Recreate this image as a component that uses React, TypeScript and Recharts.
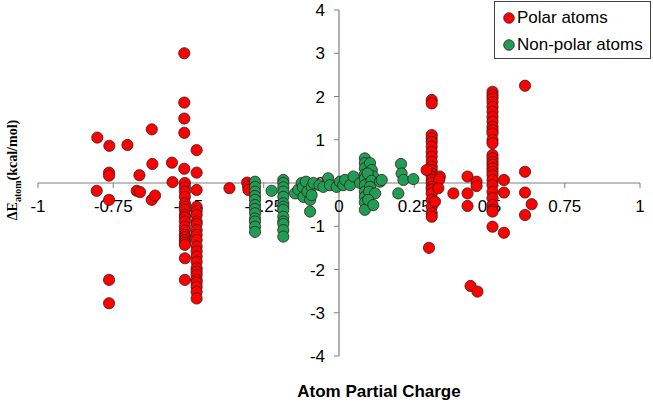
import React from "react";
import {
  ScatterChart,
  Scatter,
  XAxis,
  YAxis,
  ReferenceLine,
  ReferenceDot,
  Legend,
} from "recharts";

type Pt = { x: number; y: number };

// polar atoms (red)
const polarAtoms: Pt[] = [
  { x: -0.803, y: 1.05 }, { x: -0.763, y: 0.86 }, { x: -0.703, y: 0.88 },
  { x: -0.622, y: 1.24 }, { x: -0.514, y: 3.0 }, { x: -0.514, y: 1.86 },
  { x: -0.514, y: 1.49 }, { x: -0.514, y: 1.16 }, { x: -0.473, y: 0.76 },
  { x: -0.62, y: 0.44 }, { x: -0.555, y: 0.47 }, { x: -0.514, y: 0.33 },
  { x: -0.473, y: 0.24 }, { x: -0.764, y: 0.24 }, { x: -0.764, y: 0.17 },
  { x: -0.663, y: 0.18 }, { x: -0.553, y: 0.02 }, { x: -0.805, y: -0.18 },
  { x: -0.764, y: -0.39 }, { x: -0.672, y: -0.18 }, { x: -0.661, y: -0.21 },
  { x: -0.622, y: -0.39 }, { x: -0.611, y: -0.29 }, { x: -0.364, y: -0.12 },
  { x: -0.305, y: 0.01 }, { x: -0.302, y: -0.08 }, { x: -0.301, y: -0.16 },
  { x: -0.764, y: -2.24 }, { x: -0.764, y: -2.78 },
  // column near -0.51
  { x: -0.512, y: 0.0 }, { x: -0.512, y: -0.1 }, { x: -0.512, y: -0.2 },
  { x: -0.512, y: -0.32 }, { x: -0.512, y: -0.47 }, { x: -0.512, y: -0.55 },
  { x: -0.512, y: -0.62 }, { x: -0.512, y: -0.74 }, { x: -0.512, y: -0.8 },
  { x: -0.512, y: -0.89 }, { x: -0.512, y: -1.01 }, { x: -0.512, y: -1.1 },
  { x: -0.512, y: -1.2 }, { x: -0.512, y: -1.25 }, { x: -0.512, y: -1.32 },
  { x: -0.512, y: -1.38 }, { x: -0.512, y: -1.43 }, { x: -0.512, y: -1.74 },
  { x: -0.512, y: -2.24 },
  // column near -0.47
  { x: -0.473, y: -0.16 }, { x: -0.473, y: -0.55 }, { x: -0.473, y: -0.65 },
  { x: -0.473, y: -0.74 }, { x: -0.473, y: -0.89 }, { x: -0.473, y: -0.95 },
  { x: -0.473, y: -1.09 }, { x: -0.473, y: -1.2 }, { x: -0.473, y: -1.32 },
  { x: -0.473, y: -1.47 }, { x: -0.473, y: -1.58 }, { x: -0.473, y: -1.7 },
  { x: -0.473, y: -1.82 }, { x: -0.473, y: -1.97 }, { x: -0.473, y: -2.05 },
  { x: -0.473, y: -2.13 }, { x: -0.473, y: -2.24 }, { x: -0.473, y: -2.3 },
  { x: -0.473, y: -2.4 }, { x: -0.473, y: -2.52 }, { x: -0.473, y: -2.67 },
  // column near 0.31
  { x: 0.308, y: 1.92 }, { x: 0.308, y: 1.84 }, { x: 0.308, y: 1.11 },
  { x: 0.308, y: 1.03 }, { x: 0.308, y: 0.95 }, { x: 0.308, y: 0.84 },
  { x: 0.308, y: 0.72 }, { x: 0.308, y: 0.61 }, { x: 0.308, y: 0.49 },
  { x: 0.308, y: 0.38 }, { x: 0.308, y: 0.3 }, { x: 0.308, y: 0.22 },
  { x: 0.308, y: 0.15 }, { x: 0.308, y: 0.07 }, { x: 0.308, y: 0.0 },
  { x: 0.308, y: -0.09 }, { x: 0.308, y: -0.15 }, { x: 0.308, y: -0.24 },
  { x: 0.308, y: -0.39 }, { x: 0.308, y: -0.55 }, { x: 0.308, y: -0.7 },
  { x: 0.308, y: -0.78 }, { x: 0.299, y: -1.5 }, { x: 0.291, y: 0.3 },
  { x: 0.335, y: 0.15 }, { x: 0.333, y: 0.08 }, { x: 0.33, y: -0.12 },
  { x: 0.319, y: -0.43 }, { x: 0.38, y: -0.24 }, { x: 0.427, y: 0.15 },
  { x: 0.427, y: -0.24 }, { x: 0.427, y: -0.53 }, { x: 0.457, y: 0.03 },
  { x: 0.457, y: -0.07 },
  // column near 0.51
  { x: 0.51, y: 2.11 }, { x: 0.51, y: 2.03 }, { x: 0.51, y: 1.96 },
  { x: 0.51, y: 1.87 }, { x: 0.51, y: 1.76 }, { x: 0.51, y: 1.65 },
  { x: 0.51, y: 1.53 }, { x: 0.51, y: 1.42 }, { x: 0.51, y: 1.3 },
  { x: 0.51, y: 1.22 }, { x: 0.51, y: 1.15 }, { x: 0.51, y: 1.0 },
  { x: 0.51, y: 0.92 }, { x: 0.51, y: 0.65 }, { x: 0.51, y: 0.57 },
  { x: 0.51, y: 0.49 }, { x: 0.51, y: 0.42 }, { x: 0.51, y: 0.34 },
  { x: 0.51, y: 0.26 }, { x: 0.51, y: 0.18 }, { x: 0.51, y: 0.07 },
  { x: 0.51, y: -0.05 }, { x: 0.51, y: -0.2 }, { x: 0.51, y: -0.35 },
  { x: 0.51, y: -0.51 }, { x: 0.51, y: -0.62 }, { x: 0.51, y: -0.66 },
  { x: 0.51, y: -1.01 },
  { x: 0.548, y: 0.07 }, { x: 0.548, y: -0.22 }, { x: 0.548, y: -1.15 },
  { x: 0.618, y: 2.25 }, { x: 0.618, y: 0.26 }, { x: 0.618, y: -0.22 },
  { x: 0.618, y: -0.74 }, { x: 0.64, y: -0.49 }, { x: 0.437, y: -2.38 },
  { x: 0.46, y: -2.51 },
];

// non-polar atoms (green)
const nonPolarAtoms: Pt[] = [
  { x: -0.279, y: 0.03 }, { x: -0.279, y: -0.09 }, { x: -0.279, y: -0.2 },
  { x: -0.279, y: -0.3 }, { x: -0.279, y: -0.39 }, { x: -0.279, y: -0.51 },
  { x: -0.279, y: -0.6 }, { x: -0.279, y: -0.7 }, { x: -0.279, y: -0.82 },
  { x: -0.279, y: -0.89 }, { x: -0.279, y: -1.01 }, { x: -0.279, y: -1.13 },
  { x: -0.224, y: -0.18 },
  { x: -0.185, y: 0.07 }, { x: -0.185, y: 0.0 }, { x: -0.185, y: -0.1 },
  { x: -0.185, y: -0.2 }, { x: -0.185, y: -0.32 }, { x: -0.185, y: -0.47 },
  { x: -0.185, y: -0.55 }, { x: -0.185, y: -0.62 }, { x: -0.185, y: -0.78 },
  { x: -0.185, y: -0.89 }, { x: -0.185, y: -0.95 }, { x: -0.185, y: -1.09 },
  { x: -0.185, y: -1.24 },
  { x: -0.146, y: -0.24 }, { x: -0.135, y: -0.15 }, { x: -0.124, y: 0.0 },
  { x: -0.12, y: -0.1 }, { x: -0.118, y: -0.32 }, { x: -0.11, y: 0.03 },
  { x: -0.105, y: -0.2 }, { x: -0.096, y: -0.39 }, { x: -0.096, y: -0.66 },
  { x: -0.091, y: -0.09 }, { x: -0.091, y: -0.28 }, { x: -0.085, y: 0.0 },
  { x: -0.065, y: -0.05 }, { x: -0.052, y: -0.09 }, { x: -0.036, y: 0.11 },
  { x: -0.03, y: -0.05 }, { x: -0.008, y: -0.09 }, { x: 0.003, y: 0.03 },
  { x: 0.014, y: -0.05 }, { x: 0.02, y: 0.07 }, { x: 0.037, y: -0.05 },
  { x: 0.048, y: 0.15 }, { x: 0.07, y: 0.0 },
  { x: 0.086, y: 0.57 }, { x: 0.086, y: 0.46 }, { x: 0.086, y: 0.34 },
  { x: 0.086, y: 0.2 }, { x: 0.086, y: 0.1 }, { x: 0.086, y: -0.05 },
  { x: 0.086, y: -0.2 }, { x: 0.086, y: -0.32 }, { x: 0.086, y: -0.45 },
  { x: 0.086, y: -0.62 },
  { x: 0.103, y: 0.46 }, { x: 0.109, y: 0.3 }, { x: 0.114, y: 0.15 },
  { x: 0.095, y: 0.22 }, { x: 0.108, y: 0.05 }, { x: 0.103, y: -0.09 },
  { x: 0.1, y: -0.2 }, { x: 0.12, y: -0.24 }, { x: 0.097, y: -0.39 },
  { x: 0.114, y: -0.51 }, { x: 0.136, y: 0.03 },
  { x: 0.142, y: 0.07 }, { x: 0.206, y: 0.44 }, { x: 0.208, y: 0.22 },
  { x: 0.214, y: 0.07 }, { x: 0.247, y: 0.09 }, { x: 0.197, y: -0.24 },
];

const xTicks = [-1, -0.75, -0.5, -0.25, 0, 0.25, 0.5, 0.75, 1];
const yTicks = [-4, -3, -2, -1, 0, 1, 2, 3, 4];

const AXIS = "#7f7f7f";
const RED = "#ff0000";
const GREEN = "#1e9e55";
const TICK_FONT = "'Liberation Sans', Arial, sans-serif";

const dot = (fill: string) => (p: any) => (
  <circle cx={p.cx} cy={p.cy} r={5.6} fill={fill} stroke="#3a1a1a" strokeWidth={0.8} />
);

const xTickShape = (label: string) => (p: any) => (
  <g>
    <line x1={p.cx} y1={p.cy} x2={p.cx} y2={p.cy + 5} stroke={AXIS} />
    <text x={p.cx} y={p.cy + 29} textAnchor="middle" fontSize={17} fontFamily={TICK_FONT} fill="#000">
      {label}
    </text>
  </g>
);

const yTickShape = (label: string) => (p: any) => (
  <g>
    <line x1={p.cx - 5} y1={p.cy} x2={p.cx} y2={p.cy} stroke={AXIS} />
    <text x={p.cx - 14} y={p.cy + 6} textAnchor="end" fontSize={17} fontFamily={TICK_FONT} fill="#000">
      {label}
    </text>
  </g>
);

const LegendBox = () => (
  <div
    style={{
      border: "1px solid #404040",
      background: "#fff",
      width: 157,
      height: 58,
      boxSizing: "border-box",
      fontFamily: TICK_FONT,
      fontSize: 17,
      paddingLeft: 8,
    }}
  >
    {[
      { name: "Polar atoms", color: RED },
      { name: "Non-polar atoms", color: GREEN },
    ].map((it, i) => (
      <div key={i} style={{ display: "flex", alignItems: "center", height: 27, marginTop: i === 0 ? 2 : 0 }}>
        <svg width={12} height={12} style={{ marginRight: 2 }}>
          <circle cx={6} cy={6} r={5.3} fill={it.color} stroke="#3a1a1a" strokeWidth={0.8} />
        </svg>
        <span>{it.name}</span>
      </div>
    ))}
  </div>
);

export default function App() {
  return (
    <div style={{ position: "absolute", left: 0, top: 0, width: 653, height: 404, background: "#fff" }}>
      <ScatterChart width={653} height={404} margin={{ top: 10, right: 13, bottom: 48, left: 38 }}>
        <XAxis type="number" dataKey="x" domain={[-1, 1]} hide />
        <YAxis type="number" dataKey="y" domain={[-4, 4]} hide />
        <ReferenceLine y={0} stroke={AXIS} strokeWidth={1.2} />
        <ReferenceLine x={0} stroke={AXIS} strokeWidth={1.2} />
        {xTicks.map((t) => (
          <ReferenceDot key={"x" + t} x={t} y={0} ifOverflow="visible" shape={xTickShape(String(t))} />
        ))}
        {yTicks.map((t) => (
          <ReferenceDot key={"y" + t} x={0} y={t} ifOverflow="visible" shape={yTickShape(String(t))} />
        ))}
        <Scatter name="Polar atoms" data={polarAtoms} fill={RED} shape={dot(RED)} isAnimationActive={false} />
        <Scatter name="Non-polar atoms" data={nonPolarAtoms} fill={GREEN} shape={dot(GREEN)} isAnimationActive={false} />
        <Legend
          layout="vertical"
          align="center"
          verticalAlign="middle"
          content={<LegendBox />}
          wrapperStyle={{ left: 494, top: 1, width: 157 }}
        />
      </ScatterChart>
      <div
        style={{
          position: "absolute",
          left: 379,
          top: 382,
          transform: "translateX(-50%)",
          whiteSpace: "nowrap",
          fontFamily: TICK_FONT,
          fontWeight: "bold",
          fontSize: 17,
        }}
      >
        Atom Partial Charge
      </div>
      <div
        style={{
          position: "absolute",
          left: 14,
          top: 170,
          transform: "translate(-50%, -50%) rotate(-90deg)",
          whiteSpace: "nowrap",
          fontFamily: "'Liberation Serif', 'Times New Roman', serif",
          fontWeight: "bold",
          fontSize: 14,
        }}
      >
        ΔE<sub style={{ fontSize: 10 }}>atom</sub>(kcal/mol)
      </div>
    </div>
  );
}
